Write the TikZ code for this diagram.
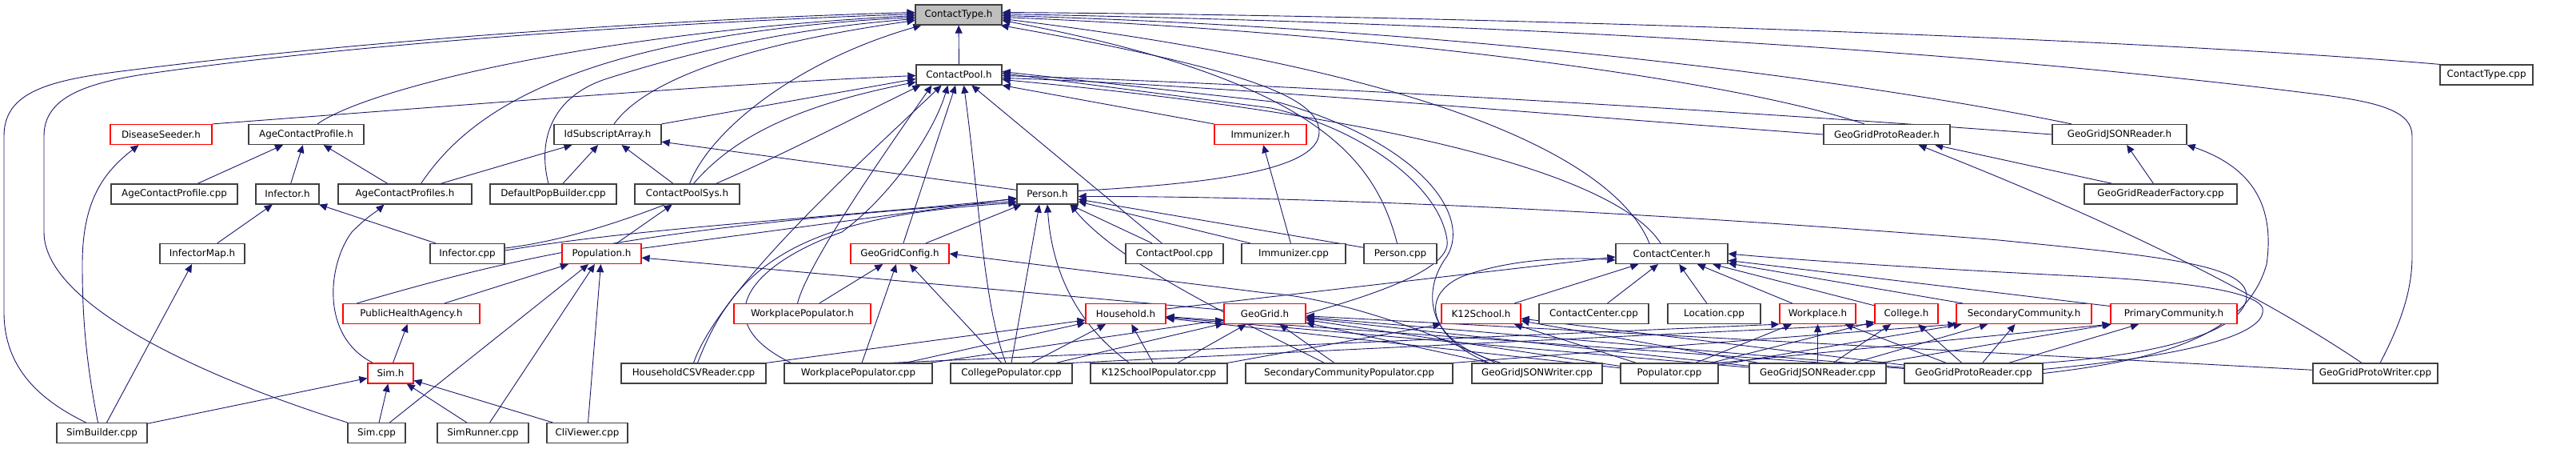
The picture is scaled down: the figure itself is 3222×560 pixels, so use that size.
\documentclass[tikz,border=0pt]{standalone}
\usepackage{fontspec}
\setmainfont{DejaVu Sans}
\usetikzlibrary{arrows.meta,calc,backgrounds}
\definecolor{edgec}{HTML}{191970}
\definecolor{boxc}{HTML}{404040}
\tikzset{
  nb/.style={draw=boxc, line width=1.2pt, fill=white, minimum height=25pt, inner sep=0pt, font=\fontsize{11.9}{14}\selectfont, text=black},
  rb/.style={nb, draw=red},
  gb/.style={nb, fill=black!25},
  e/.style={draw=edgec, line width=0.9pt, -{Triangle[length=10pt,width=9pt]}},
}
\begin{document}
\begin{tikzpicture}[x=1pt,y=-1pt]
\useasboundingbox (0,0) rectangle (3222,560);
% row 1
\node[gb,minimum width=108pt] (CT) at (1199,18.5) {ContactType.h};
% row 2
\node[nb,minimum width=107pt] (CP) at (1199.5,93.5) {ContactPool.h};
\node[nb,minimum width=116pt] (CTcpp) at (3110,93.5) {ContactType.cpp};
% row 3
\node[rb,minimum width=127pt] (DS) at (201.5,168) {DiseaseSeeder.h};
\node[nb,minimum width=144pt] (ACPh) at (383,168) {AgeContactProfile.h};
\node[nb,minimum width=134pt] (ISA) at (760,168) {IdSubscriptArray.h};
\node[rb,minimum width=115pt] (Imm) at (1576.5,168) {Immunizer.h};
\node[nb,minimum width=158pt] (GGPRh) at (2360,168) {GeoGridProtoReader.h};
\node[nb,minimum width=168pt] (GGJRh) at (2651,168) {GeoGridJSONReader.h};
% row 4
\node[nb,minimum width=158pt] (ACPcpp) at (218,242.5) {AgeContactProfile.cpp};
\node[nb,minimum width=79pt] (Infh) at (359.5,242.5) {Infector.h};
\node[nb,minimum width=167pt] (ACPsh) at (506.5,242.5) {AgeContactProfiles.h};
\node[nb,minimum width=158pt] (DPB) at (692,242.5) {DefaultPopBuilder.cpp};
\node[nb,minimum width=131pt] (CPS) at (859.5,242.5) {ContactPoolSys.h};
\node[nb,minimum width=76pt] (Person) at (1310,242.5) {Person.h};
\node[nb,minimum width=191pt] (GGRF) at (2702.5,242.5) {GeoGridReaderFactory.cpp};
% row 5
\node[nb,minimum width=106pt] (IMap) at (253,317) {InfectorMap.h};
\node[nb,minimum width=93pt] (Infcpp) at (584.5,317) {Infector.cpp};
\node[rb,minimum width=99pt] (Pop) at (752.5,317) {Population.h};
\node[rb,minimum width=123pt] (GGC) at (1125.5,317) {GeoGridConfig.h};
\node[nb,minimum width=122pt] (CPcpp) at (1469,317) {ContactPool.cpp};
\node[nb,minimum width=130pt] (Immcpp) at (1618,317) {Immunizer.cpp};
\node[nb,minimum width=91pt] (Personcpp) at (1751.5,317) {Person.cpp};
\node[nb,minimum width=140pt] (CCh) at (2091,317) {ContactCenter.h};
% row 6
\node[rb,minimum width=171pt] (PHA) at (514.5,392) {PublicHealthAgency.h};
\node[rb,minimum width=171pt] (WPh) at (1003.5,392) {WorkplacePopulator.h};
\node[rb,minimum width=100pt] (HH) at (1408,392) {Household.h};
\node[rb,minimum width=102pt] (GG) at (1582,392) {GeoGrid.h};
\node[rb,minimum width=99pt] (K12h) at (1852.5,392) {K12School.h};
\node[nb,minimum width=137pt] (CCcpp) at (1993.5,392) {ContactCenter.cpp};
\node[nb,minimum width=116pt] (Loc) at (2144,392) {Location.cpp};
\node[rb,minimum width=95pt] (WP) at (2273.5,392) {Workplace.h};
\node[rb,minimum width=79pt] (Col) at (2384.5,392) {College.h};
\node[rb,minimum width=169pt] (SC) at (2531.5,392) {SecondaryCommunity.h};
\node[rb,minimum width=158pt] (PC) at (2719,392) {PrimaryCommunity.h};
% row 7
\node[rb,minimum width=57pt] (Simh) at (488.5,466.5) {Sim.h};
\node[nb,minimum width=181pt] (HCSV) at (867.5,466.5) {HouseholdCSVReader.cpp};
\node[nb,minimum width=185pt] (WPcpp) at (1073.5,466.5) {WorkplacePopulator.cpp};
\node[nb,minimum width=152pt] (ColPop) at (1265,466.5) {CollegePopulator.cpp};
\node[nb,minimum width=171pt] (K12Pop) at (1449.5,466.5) {K12SchoolPopulator.cpp};
\node[nb,minimum width=259pt] (SCPop) at (1687.5,466.5) {SecondaryCommunityPopulator.cpp};
\node[nb,minimum width=163pt] (GGJW) at (1922.5,466.5) {GeoGridJSONWriter.cpp};
\node[nb,minimum width=122pt] (Popcpp) at (2088,466.5) {Populator.cpp};
\node[nb,minimum width=171pt] (GGJRcpp) at (2273.5,466.5) {GeoGridJSONReader.cpp};
\node[nb,minimum width=173pt] (GGPRcpp) at (2468.5,466.5) {GeoGridProtoReader.cpp};
\node[nb,minimum width=156pt] (GGPW) at (2971,466.5) {GeoGridProtoWriter.cpp};
% row 8
\node[nb,minimum width=113pt] (SB) at (127.5,541) {SimBuilder.cpp};
\node[nb,minimum width=72pt] (Simcpp) at (471,541) {Sim.cpp};
\node[nb,minimum width=114pt] (SR) at (604,541) {SimRunner.cpp};
\node[nb,minimum width=101pt] (CV) at (734.5,541) {CliViewer.cpp};

\begin{scope}[on background layer]
% ---- into ContactType.h
\draw[e] (CP) -- (CT);
\draw[e] ($(SB.north)+(-20,0)$) .. controls (50,500) and (5,460) .. (5,390) -- (5,170) .. controls (5,115) and (60,100) .. (160,88) .. controls (500,45) and (900,22) .. ($(CT.west)+(0,-3)$);
\draw[e] (Simcpp.north west) .. controls (250,470) and (55,380) .. (55,290) -- (55,170) .. controls (55,120) and (110,102) .. (200,90) .. controls (500,48) and (900,26) .. ($(CT.west)+(0,-1)$);
\draw[e] ($(ACPh.north)+(14,0)$) .. controls (460,110) and (750,40) .. ($(CT.west)+(0,1)$);
\draw[e] ($(ACPsh.north)+(20,0)$) .. controls (580,150) and (700,45) .. ($(CT.west)+(0,3)$);
\draw[e] ($(DPB.north)+(-6,0)$) .. controls (672,175) and (690,120) .. (760,98) .. controls (880,60) and (1000,35) .. ($(CT.west)+(0,5)$);
\draw[e] ($(ISA.north)+(8,0)$) .. controls (800,110) and (900,60) .. ($(CT.west)+(0,7)$);
\draw[e] ($(CPS.north)+(3,0)$) .. controls (890,160) and (1000,75) .. ($(CT.south west)+(8,0)$);
\draw[e] ($(Person.east)+(0,-4)$) .. controls (1500,230) and (1650,215) .. (1650,165) .. controls (1650,120) and (1550,85) .. ($(CT.south east)+(-2,0)$);
\draw[e] ($(Personcpp.north)+(-4,0)$) .. controls (1720,200) and (1650,100) .. ($(CT.east)+(0,7)$);
\draw[e] ($(CCh.north)+(-28,0)$) .. controls (2020,200) and (1800,90) .. ($(CT.east)+(0,5)$);
\draw[e] ($(GGPRh.north)+(-28,0)$) .. controls (2150,95) and (1700,40) .. ($(CT.east)+(0,3)$);
\draw[e] ($(GGJRh.north)+(-60,0)$) .. controls (2300,95) and (1800,35) .. ($(CT.east)+(0,1)$);
\draw[e] ($(GGPW.north)+(6,0)$) .. controls (3005,400) and (3017,360) .. (3017,320) -- (3017,170) .. controls (3017,140) and (2980,128) .. (2900,118) .. controls (2400,55) and (1800,28) .. ($(CT.east)+(0,-1)$);
\draw[e] (CTcpp.north west) .. controls (2700,50) and (1900,20) .. ($(CT.east)+(0,-3)$);
% ---- into ContactPool.h
\draw[e] (DS.north east) .. controls (600,130) and (900,105) .. ($(CP.west)+(0,1)$);
\draw[e] (ISA.north east) -- ($(CP.west)+(0,5)$);
\draw[e] ($(CPS.north)+(8,0)$) .. controls (910,180) and (980,135) .. ($(CP.west)+(0,9)$);
\draw[e] ($(Infcpp.east)+(0,-7)$) .. controls (800,290) and (1000,180) .. ($(CP.south west)+(6,0)$);
\draw[e] (HCSV.north) .. controls (900,360) and (1090,190) .. ($(CP.south)+(-22,0)$);
\draw[e] ($(WPcpp.north west)+(9,0)$) .. controls (880,400) and (940,330) .. (1053,290) .. controls (1120,240) and (1170,160) .. ($(CP.south)+(-14,0)$);
\draw[e] (GGC) -- (CP);
\draw[e] ($(ColPop.north)+(-7,0)$) .. controls (1230,380) and (1225,250) .. ($(CP.south)+(6,0)$);
\draw[e] (CPcpp) -- (CP);
\draw[e] (Imm.north west) -- (CP.south east);
\draw[e] (GGPRh.west) .. controls (1900,140) and (1500,105) .. ($(CP.east)+(0,4)$);
\draw[e] (GGJRh.west) .. controls (2200,140) and (1600,105) .. ($(CP.east)+(0,1)$);
\draw[e] ($(CCh.north)+(-14,0)$) .. controls (2030,230) and (1800,150) .. ($(CP.east)+(0,6)$);
\draw[e] (GG.east) .. controls (1750,360) and (1815,330) .. (1810,300) .. controls (1800,230) and (1700,160) .. (1590,135) -- ($(CP.east)+(0,-2)$);
\draw[e] ($(GGJW.north)+(-60,0)$) .. controls (1780,420) and (1780,360) .. (1810,320) .. controls (1840,270) and (1780,180) .. (1600,128) -- ($(CP.east)+(0,-4)$);
\draw[e] ($(WPh.north)+(-6,0)$) .. controls (1010,330) and (1100,200) .. ($(CP.south west)+(20,0)$);
% ---- IdSubscriptArray / AgeContactProfile / DiseaseSeeder
\draw[e] (ACPsh) -- (ISA);
\draw[e] (DPB) -- (ISA);
\draw[e] (CPS) -- (ISA);
\draw[e] (Person) -- (ISA);
\draw[e] (ACPcpp) -- (ACPh);
\draw[e] (Infh) -- (ACPh);
\draw[e] (ACPsh) -- (ACPh);
\draw[e] ($(SB.north)+(-5,0)$) .. controls (105,440) and (103,380) .. (103,330) .. controls (103,250) and (130,215) .. ($(DS.south)+(-28,0)$);
% ---- Infector, InfectorMap, Sim
\draw[e] (IMap) -- (Infh);
\draw[e] (Infcpp) -- (Infh);
\draw[e] ($(SB.north)+(6,0)$) -- ($(IMap.south)+(-13,0)$);
\draw[e] (SB) -- (Simh);
\draw[e] (Simcpp) -- (Simh);
\draw[e] (SR) -- (Simh);
\draw[e] (CV) -- (Simh);
\draw[e] ($(Simh.north)+(3,0)$) -- (PHA);
\draw[e] ($(Simh.north)+(-22,0)$) .. controls (400,420) and (410,330) .. (440,290) .. controls (460,270) and (470,265) .. ($(ACPsh.south)+(-26,0)$);
% ---- Population
\draw[e] (Simcpp) -- (Pop);
\draw[e] (SR) -- (Pop);
\draw[e] (CV) -- (Pop);
\draw[e] (PHA) -- (Pop);
\draw[e] (Pop) -- (CPS);
\draw[e] (Pop) -- (Person);
\draw[e] (GG) -- ($(Pop.east)+(0,5)$);
% ---- Person.h
\draw[e] ($(Infcpp.east)+(0,-4)$) .. controls (800,285) and (1000,275) .. ($(Person.west)+(0,6)$);
\draw[e] ($(PHA.north west)+(18,0)$) .. controls (650,320) and (800,285) .. ($(Person.west)+(0,9)$);
\draw[e] ($(HCSV.north)+(5,0)$) .. controls (920,330) and (1000,270) .. ($(Person.west)+(0,11)$);
\draw[e] (GGC) -- (Person);
\draw[e] (ColPop.north) -- ($(Person.south)+(-10,0)$);
\draw[e] ($(K12Pop.north west)+(49,0)$) .. controls (1340,400) and (1315,330) .. (Person.south);
\draw[e] ($(SCPop.north west)+(99,0)$) .. controls (1550,400) and (1400,330) .. ($(Person.south east)+(-10,0)$);
\draw[e] (CPcpp) -- (Person);
\draw[e] (Immcpp) -- (Person);
\draw[e] (Personcpp) -- (Person);
\draw[e] (Immcpp) -- (Imm);
% ---- GeoGridConfig.h
\draw[e] (WPh) -- (GGC);
\draw[e] (WPcpp) -- (GGC);
\draw[e] (ColPop) -- (GGC);
\draw[e] ($(GGJW.north)+(-52,0)$) .. controls (1760,400) and (1650,370) .. (1583,366) -- (GGC.east);
% ---- Household.h
\draw[e] (HCSV.north east) -- ($(HH.west)+(0,8)$);
\draw[e] (WPcpp) -- (HH);
\draw[e] (ColPop) -- (HH);
\draw[e] (K12Pop) -- (HH);
\draw[e] (Popcpp) -- (HH);
\draw[e] (GGJRcpp) -- (HH);
\draw[e] (GGPRcpp) -- (HH);
\draw[e] ($(HH.east)+(0,-6)$) -- ($(CCh.west)+(0,4)$);
% ---- GeoGrid.h
\draw[e] (WPcpp) -- (GG);
\draw[e] (ColPop) -- (GG);
\draw[e] (K12Pop) -- (GG);
\draw[e] (SCPop) -- (GG);
\draw[e] (GGJW) -- (GG);
\draw[e] (Popcpp) -- (GG);
\draw[e] (GGJRcpp) -- (GG);
\draw[e] (GGPRcpp) -- (GG);
\draw[e] (GGPW) -- (GG);
% ---- K12School.h
\draw[e] (K12Pop.north east) -- (K12h.south west);
\draw[e] (Popcpp) -- (K12h);
\draw[e] (GGJRcpp) -- (K12h);
\draw[e] (GGPRcpp) -- (K12h);
\draw[e] (K12h) -- (CCh);
% ---- ContactCenter.h
\draw[e] (CCcpp) -- (CCh);
\draw[e] (Loc) -- (CCh);
\draw[e] (WP) -- (CCh);
\draw[e] (Col) -- (CCh);
\draw[e] (SC) -- (CCh);
\draw[e] (PC) -- (CCh);
\draw[e] ($(GGJW.north)+(-45,0)$) .. controls (1790,430) and (1770,370) .. (1830,345) .. controls (1900,320) and (1980,322) .. ($(CCh.west)+(0,8)$);
% ---- Workplace / College / SecondaryCommunity / PrimaryCommunity
\draw[e] ($(WPcpp.north)+(40,0)$) -- (WP.south west);
\draw[e] (Popcpp) -- (WP);
\draw[e] (GGJRcpp) -- (WP);
\draw[e] (GGPRcpp) -- (WP);
\draw[e] (ColPop.north east) -- (Col.south west);
\draw[e] (Popcpp) -- (Col);
\draw[e] (GGJRcpp) -- (Col);
\draw[e] (GGPRcpp) -- (Col);
\draw[e] (SCPop.north east) -- (SC.south west);
\draw[e] (Popcpp) -- (SC);
\draw[e] (GGJRcpp) -- (SC);
\draw[e] (GGPRcpp) -- (SC);
\draw[e] (Popcpp.north east) -- (PC.south west);
\draw[e] (GGJRcpp) -- (PC);
\draw[e] (GGPRcpp) -- (PC);
% ---- readers
\draw[e] (GGRF) -- (GGPRh);
\draw[e] (GGRF) -- (GGJRh);
\draw[e] ($(GGPW.north)+(-17,0)$) .. controls (2800,350) and (2600,260) .. ($(GGPRh.south east)+(-40,0)$);
\draw[e] (GGPRcpp.east) .. controls (2700,450) and (2810,420) .. (2835,330) .. controls (2845,260) and (2820,210) .. (GGJRh.south east);
\draw[e] (GGPRcpp.north east) .. controls (2750,440) and (2810,400) .. (2810,370) .. controls (2810,330) and (2700,320) .. (2500,300) .. controls (2000,260) and (1600,245) .. ($(Person.east)+(0,3)$);
\draw[e] ($(GGPRcpp.east)+(0,-5)$) .. controls (2780,440) and (2835,410) .. (2830,385) .. controls (2820,360) and (2700,350) .. (2600,345) .. controls (2400,335) and (2250,325) .. (CCh.east);
\end{scope}
\end{tikzpicture}
\end{document}
